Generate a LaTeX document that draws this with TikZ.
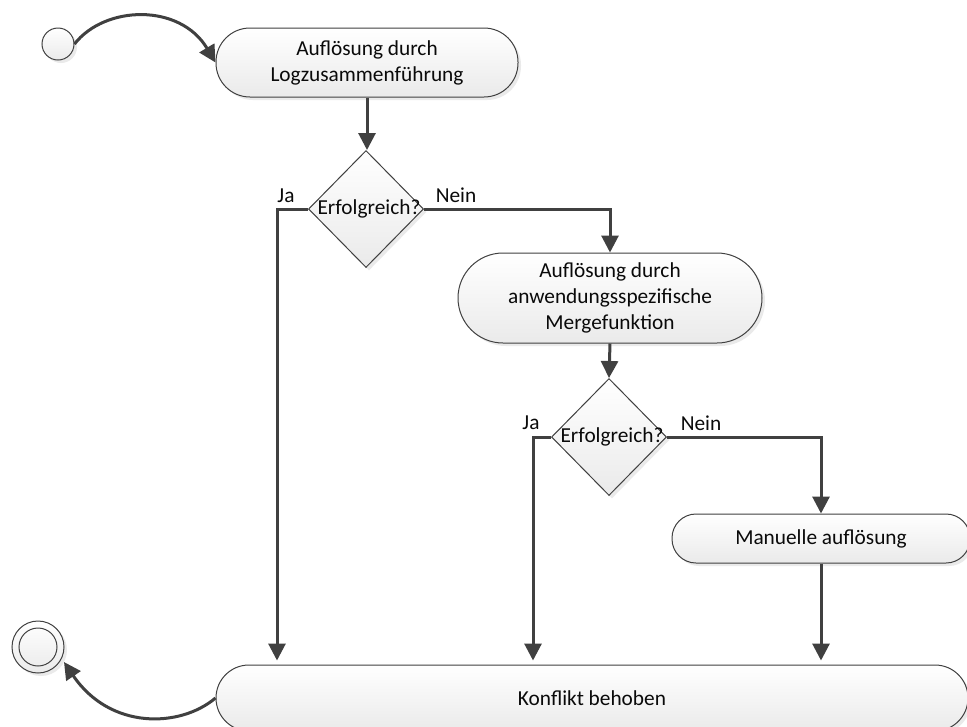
\documentclass[tikz,border=0pt]{standalone}
\usepackage{fontspec}
\setmainfont{Carlito}
\usetikzlibrary{arrows.meta,shapes.geometric,shadows}

% one coordinate unit = 0.75pt, y growing downwards

\definecolor{linegray}{HTML}{404040}
\definecolor{fillbot}{HTML}{EAEAEA}
\definecolor{txt}{HTML}{0A0A0A}

\tikzset{
  x=0.75pt, y=-0.75pt,
  base/.style={draw=linegray, line width=0.75pt, top color=white, bottom color=fillbot,
    text=txt, font=\fontsize{16}{19.5}\selectfont,
    drop shadow={opacity=0.16, shadow xshift=2.25pt, shadow yshift=-2.25pt}},
  pill/.style n args={3}{base, rectangle, inner sep=0pt, align=center,
    minimum width=#1, minimum height=#2, rounded corners=#3},
  decision/.style={base, diamond, inner sep=0pt, minimum width=86.25pt, minimum height=87.75pt,
    label={[text=txt, font=\fontsize{16}{19.5}\selectfont, xshift=2.25pt]center:Erfolgreich?}},
  lbl/.style={text=txt, font=\fontsize{16}{19.5}\selectfont, inner sep=0pt},
  conn/.style={draw=linegray, line width=2.25pt,
    -{Triangle[length=12.75pt, width=12.75pt]}},
}

\begin{document}
\begin{tikzpicture}
  \path[use as bounding box, fill=white] (0,0) rectangle (967,726);

  % start and end markers
  \node[base, circle, minimum size=24pt, inner sep=0pt] (start) at (58,44) {};
  \node[base, circle, minimum size=39pt, inner sep=0pt] (stop) at (38,647) {};
  \draw[draw=linegray, line width=0.75pt] (stop.center) circle[radius=14.25pt];

  % activities
  \node[pill={226.5pt}{51.75pt}{25.5pt}] (merge) at (367,62.5) {Auflösung durch\\Logzusammenführung};
  \node[pill={228pt}{67.5pt}{33.75pt}] (appmerge) at (610,298) {Auflösung durch\\anwendungsspezifische\\Mergefunktion};
  \node[pill={223.5pt}{36.75pt}{18pt}] (manual) at (821,538.5) {Manuelle auflösung};
  \node[pill={564pt}{49.5pt}{24.75pt}] (solved) at (592,698) {Konflikt behoben};

  % decisions
  \node[decision] (d1) at (366,209) {};
  \node[decision] (d2) at (609,437) {};

  % branch labels
  \node[lbl] (ja1) at (286,196) {Ja};
  \node[lbl] (nein1) at (456,195) {Nein};
  \node[lbl] (ja2) at (531,423) {Ja};
  \node[lbl] (nein2) at (701,423) {Nein};

  % bends of the "Ja" branches
  \coordinate (jaA) at (277,209);
  \coordinate (jaB) at (533,437);

  % flow
  \draw[conn] (start.east) .. controls (105,5) and (180,3) .. (merge.west);
  \draw[conn] (merge.south) -- (merge.south |- d1.north);
  \draw[conn, shorten >=3pt] (d1.west) -- (jaA) -- (jaA |- solved.north);
  \draw[conn] (d1.east) -| (appmerge.north);
  \draw[conn] (appmerge.south) -- (d2.north);
  \draw[conn, shorten >=3pt] (d2.west) -- (jaB) -- (jaB |- solved.north);
  \draw[conn] (d2.east) -| (manual.north);
  \draw[conn, shorten >=3pt] (manual.south) -- (manual.south |- solved.north);
  \draw[conn] (solved.west) .. controls (180,728) and (110,730) .. (64,662);
\end{tikzpicture}
\end{document}
